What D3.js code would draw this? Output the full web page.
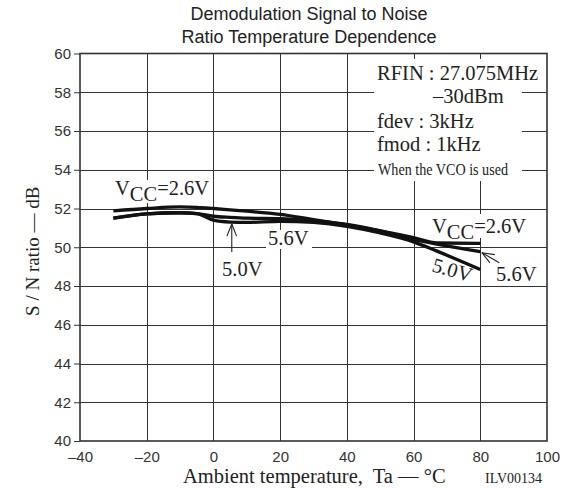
<!DOCTYPE html>
<html>
<head>
<meta charset="utf-8">
<script src="https://cdn.jsdelivr.net/npm/d3@7"></script>
<style>
  body { margin: 0; background: #fff; }
  svg { display: block; }
</style>
</head>
<body>
<svg id="chart" width="570" height="489"></svg>
<script>
// Ambient temperature sample points (°C)
const temps   = [-30, -20, -10, -5, 0, 5, 10, 20, 30, 40, 50, 60, 67, 80];
// S/N ratio (dB) for each supply voltage
const vcc26   = [51.88, 52.00, 52.08, 52.06, 52.00, 51.93, 51.86, 51.70, 51.43, 51.15, 50.85, 50.50, 50.22, 50.20];
const vcc56   = [51.50, 51.72, 51.78, 51.74, 51.60, 51.54, 51.50, 51.48, 51.36, 51.18, 50.85, 50.40, 50.16, 49.77];
const vcc50   = [51.50, 51.72, 51.78, 51.74, 51.40, 51.30, 51.28, 51.34, 51.28, 51.08, 50.74, 50.28, 49.80, 48.85];

const xTicks  = [-40, -20, 0, 20, 40, 60, 80, 100];
const yTicks  = [40, 42, 44, 46, 48, 50, 52, 54, 56, 58, 60];
const xTickLabels = ["\u201340", "\u201320", "0", "20", "40", "60", "80", "100"];

const titleLines = ["Demodulation Signal to Noise", "Ratio Temperature Dependence"];
const conditions = ["RFIN : 27.075MHz", "\u201330dBm", "fdev : 3kHz", "fmod : 1kHz", "When the VCO is used"];

const svg = d3.select("#chart");
const plotLeft = 80, plotRight = 547, plotTop = 53.5, plotBottom = 441;

const x = d3.scaleLinear().domain([-40, 100]).range([plotLeft, plotRight]);
const y = d3.scaleLinear().domain([40, 60]).range([plotBottom, plotTop]);

const SANS = "'Liberation Sans', Arial, Helvetica, sans-serif";
const SERIF = "'Liberation Serif', 'Times New Roman', Times, serif";
const LABEL_SIZE = 20.5;

// Title
svg.append("g").selectAll("text").data(titleLines).join("text")
  .attr("x", 309).attr("y", (d, i) => 20 + i * 23)
  .attr("text-anchor", "middle")
  .attr("font-family", SANS).attr("font-size", 18).attr("fill", "#222")
  .text(d => d);

// Grid
const grid = svg.append("g").attr("stroke", "#333").attr("stroke-width", 1);
grid.selectAll("line.v").data(xTicks.slice(1, -1)).join("line").attr("class", "v")
  .attr("x1", d => Math.round(x(d)) + 0.5).attr("x2", d => Math.round(x(d)) + 0.5)
  .attr("y1", plotTop).attr("y2", plotBottom);
grid.selectAll("line.h").data(yTicks.slice(1, -1)).join("line").attr("class", "h")
  .attr("y1", d => Math.round(y(d)) + 0.5).attr("y2", d => Math.round(y(d)) + 0.5)
  .attr("x1", plotLeft).attr("x2", plotRight);

// Axes: left ticks point outward, bottom labels only
const yAxis = d3.axisLeft(y).tickValues(yTicks).tickSize(6).tickPadding(3);
const gy = svg.append("g").attr("transform", `translate(${plotLeft},0)`).call(yAxis);
gy.select(".domain").remove();
gy.selectAll("line").attr("stroke", "#333");
gy.selectAll("text").attr("font-family", SANS).attr("font-size", 15).attr("fill", "#333");

const xAxis = d3.axisBottom(x).tickValues(xTicks).tickSize(0).tickPadding(10)
  .tickFormat((d, i) => xTickLabels[i]);
const gx = svg.append("g").attr("transform", `translate(0,${plotBottom})`).call(xAxis);
gx.select(".domain").remove();
gx.selectAll("text").attr("font-family", SANS).attr("font-size", 15).attr("fill", "#333");

// White panels behind annotation text that interrupt the grid
const mask = svg.append("g").attr("fill", "#fff");
mask.append("rect").attr("x", 374).attr("y", 59).attr("width", 148).attr("height", 122);
mask.append("rect").attr("x", 374).attr("y", 62).attr("width", 168).attr("height", 24);
mask.append("rect").attr("x", 113).attr("y", 180).attr("width", 98).attr("height", 23);
mask.append("rect").attr("x", 430).attr("y", 214).attr("width", 99).attr("height", 24);
mask.append("rect").attr("x", 266).attr("y", 230).attr("width", 46).attr("height", 19);
mask.append("rect").attr("x", 219).attr("y", 259).attr("width", 47).attr("height", 19);
mask.append("rect").attr("x", 492).attr("y", 265).attr("width", 47).attr("height", 18);

// Frame
svg.append("rect").attr("x", plotLeft).attr("y", plotTop)
  .attr("width", plotRight - plotLeft).attr("height", plotBottom - plotTop)
  .attr("fill", "none").attr("stroke", "#333").attr("stroke-width", 1.6);

// Curves
const line = d3.line().x(d => x(d[0])).y(d => y(d[1])).curve(d3.curveMonotoneX);
const series = [vcc26, vcc56, vcc50];
svg.append("g").selectAll("path").data(series).join("path")
  .attr("d", s => line(temps.map((t, i) => [t, s[i]])))
  .attr("fill", "none").attr("stroke", "#111").attr("stroke-width", 3.3)
  .attr("stroke-linejoin", "round").attr("stroke-linecap", "butt");

// Condition text block
const cond = svg.append("g").attr("font-family", SERIF).attr("fill", "#222");
cond.append("text").attr("x", 377).attr("y", 80).attr("font-size", LABEL_SIZE).text(conditions[0]);
cond.append("text").attr("x", 433).attr("y", 103).attr("font-size", LABEL_SIZE).text(conditions[1]);
cond.append("text").attr("x", 377).attr("y", 128).attr("font-size", LABEL_SIZE).text(conditions[2]);
cond.append("text").attr("x", 377).attr("y", 151).attr("font-size", LABEL_SIZE).text(conditions[3]);
cond.append("text").attr("x", 378).attr("y", 175).attr("font-size", 17.5)
  .attr("textLength", 130).attr("lengthAdjust", "spacingAndGlyphs").text(conditions[4]);

// Curve labels
const lab = svg.append("g").attr("font-family", SERIF).attr("fill", "#222").attr("font-size", LABEL_SIZE);
function vccLabel(px, py) {
  const t = lab.append("text").attr("x", px).attr("y", py);
  t.append("tspan").text("V");
  t.append("tspan").attr("dy", 6).text("CC");
  t.append("tspan").attr("dy", -6).text("=2.6V");
}
vccLabel(115, 195);
vccLabel(432, 233);
lab.append("text").attr("x", 268).attr("y", 245).text("5.6V");
lab.append("text").attr("x", 222).attr("y", 276).text("5.0V");
lab.append("text").attr("x", 496).attr("y", 281).text("5.6V");
lab.append("text").attr("transform", "translate(431,271) rotate(16)").text("5.0V");

// Arrows
const arrows = svg.append("g").attr("stroke", "#222").attr("stroke-width", 1.1).attr("fill", "none");
function arrow(x1, y1, x2, y2) {
  arrows.append("line").attr("x1", x1).attr("y1", y1).attr("x2", x2).attr("y2", y2);
  const a = Math.atan2(y1 - y2, x1 - x2), len = 13, spread = 0.38;
  [a - spread, a + spread].forEach(b => {
    arrows.append("line").attr("x1", x2).attr("y1", y2)
      .attr("x2", x2 + len * Math.cos(b)).attr("y2", y2 + len * Math.sin(b));
  });
}
// 5.0V pointer at 5 °C, 5.6V pointer at 80 °C
arrow(x(5.5), y(49.75), x(5.5), y(vcc50[5]) + 2);
arrow(x(85.7), y(49.2), x(80.5), y(vcc56[13]) + 1);

// Axis titles
svg.append("text").attr("transform", `translate(39,${(plotTop + plotBottom) / 2 + 4}) rotate(-90)`)
  .attr("text-anchor", "middle").attr("font-family", SERIF).attr("font-size", 19).attr("fill", "#222")
  .text("S / N ratio \u2014 dB");
svg.append("text").attr("x", 183).attr("y", 483)
  .attr("font-family", SERIF).attr("font-size", LABEL_SIZE).attr("fill", "#222")
  .text("Ambient temperature,\u00a0 Ta \u2014 \u00b0C");
svg.append("text").attr("x", 485).attr("y", 483)
  .attr("font-family", SERIF).attr("font-size", 14).attr("fill", "#222")
  .text("ILV00134");
</script>
</body>
</html>
